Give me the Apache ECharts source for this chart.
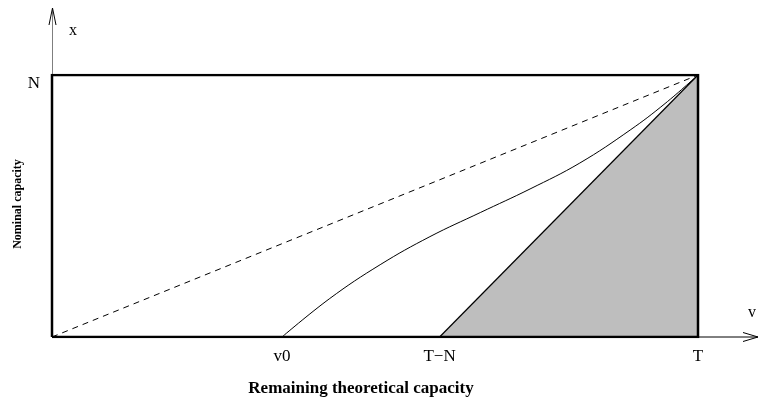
<!DOCTYPE html>
<html><head><meta charset="utf-8">
<script src="https://cdn.jsdelivr.net/npm/echarts@6/dist/echarts.min.js"></script>
<style>html,body{margin:0;padding:0;background:#fff}#c{width:759px;height:398px}</style>
</head><body><div id="c"></div>
<script>
// ---- data ----
const vTickValues = [35.6, 60, 100];
const vTickLabels = ['v0', 'T\u2212N', 'T'];
const xTickValues = [100];
const xTickLabels = ['N'];
const curveV = [35.6, 43.0, 50.8, 58.5, 66.3, 74.0, 81.7, 89.5, 94.9, 100];
const curveX = [0, 14.7, 27.6, 38.3, 47.5, 56.5, 66.4, 79.0, 89.1, 100];
const diagV = [0, 100];
const diagX = [0, 100];
const shadeV = [60, 100];
const shadeX = [0, 100];
const frameV = [0, 100, 100, 0, 0];
const frameX = [0, 0, 100, 100, 0];
const vAxisName = 'v';
const xAxisName = 'x';
const vTitle = 'Remaining theoretical capacity';
const xTitle = 'Nominal capacity';

const zip = (a, b) => a.map((v, i) => [v, b[i]]);
const FONT = "'Liberation Serif','Times New Roman',serif";
const chart = echarts.init(document.getElementById('c'), null, {renderer: 'canvas'});

const option = {
  animation: false,
  backgroundColor: '#fff',
  grid: {left: 52, right: 61, top: 75, bottom: 61},
  xAxis: {
    type: 'value', min: 0, max: 100,
    axisLine: {show: false}, axisTick: {show: false}, splitLine: {show: false},
    axisLabel: {
      customValues: vTickValues, margin: 11,
      fontFamily: FONT, fontSize: 17, color: '#000',
      formatter: v => vTickLabels[vTickValues.indexOf(v)] || ''
    }
  },
  yAxis: {
    type: 'value', min: 0, max: 100,
    axisLine: {show: false}, axisTick: {show: false}, splitLine: {show: false},
    axisLabel: {
      customValues: xTickValues, margin: 12, verticalAlign: 'top',
      fontFamily: FONT, fontSize: 17, color: '#000',
      formatter: v => xTickLabels[xTickValues.indexOf(v)] || ''
    }
  },
  series: [
    {type: 'line', data: zip(shadeV, shadeX), symbol: 'none',
     lineStyle: {color: '#000', width: 1.2}, areaStyle: {color: '#bebebe', opacity: 1}, z: 2},
    {type: 'line', data: zip(diagV, diagX), symbol: 'none',
     lineStyle: {color: '#000', width: 1, type: [6, 5]}, z: 3},
    {type: 'line', data: zip(curveV, curveX), symbol: 'none', smooth: 0.4,
     lineStyle: {color: '#000', width: 1}, z: 4},
    {type: 'line', data: zip(frameV, frameX), symbol: 'none',
     lineStyle: {color: '#000', width: 2.5, join: 'miter'}, z: 5}
  ]
};
chart.setOption(option);

const o = chart.convertToPixel({gridIndex: 0}, [0, 0]);
const tr = chart.convertToPixel({gridIndex: 0}, [100, 100]);
const x0 = o[0], y0 = o[1], x1 = tr[0], y1 = tr[1];
const yTip = [x0 + 0.5, 8], xTip = [758, y0];
chart.setOption({
  graphic: [
    {type: 'line', shape: {x1: x0 + 0.5, y1: y1, x2: yTip[0], y2: yTip[1]}, style: {stroke: '#7f7f7f', lineWidth: 1}},
    {type: 'polyline', shape: {points: [[yTip[0] - 3.5, yTip[1] + 17], yTip, [yTip[0] + 3.5, yTip[1] + 17]]}, style: {stroke: '#000', lineWidth: 1, fill: null}},
    {type: 'line', shape: {x1: x1, y1: y0, x2: xTip[0], y2: xTip[1]}, style: {stroke: '#000', lineWidth: 1}},
    {type: 'polyline', shape: {points: [[xTip[0] - 15, xTip[1] - 4.5], xTip, [xTip[0] - 15, xTip[1] + 4.5]]}, style: {stroke: '#000', lineWidth: 1, fill: null}},
    {type: 'text', x: 73, y: 31, style: {text: xAxisName, font: '16px ' + FONT, fill: '#000', align: 'center', verticalAlign: 'middle'}},
    {type: 'text', x: 752, y: 313, style: {text: vAxisName, font: '16px ' + FONT, fill: '#000', align: 'center', verticalAlign: 'middle'}},
    {type: 'text', x: 361, y: 389, style: {text: vTitle, font: 'bold 17px ' + FONT, fill: '#000', align: 'center', verticalAlign: 'middle'}},
    {type: 'text', x: 18, y: 204, rotation: Math.PI / 2, style: {text: xTitle, font: 'bold 12px ' + FONT, fill: '#000', align: 'center', verticalAlign: 'middle'}}
  ]
});
</script></body></html>
